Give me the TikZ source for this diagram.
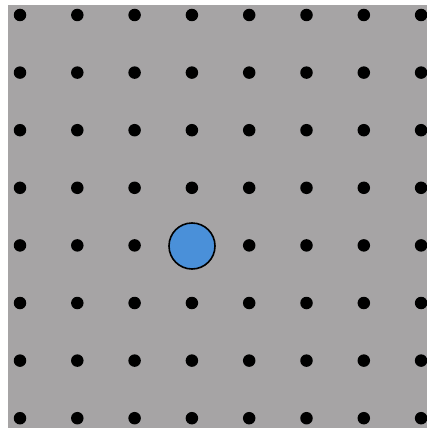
\documentclass[tikz,border=0pt]{standalone}
\definecolor{bggray}{RGB}{166,164,165}
\definecolor{dotblue}{RGB}{74,144,217}
\tikzset{
  gridpt/.style={circle,fill=black,inner sep=0pt,minimum size=12.5pt},
  agent/.style={circle,draw=black,line width=1.6pt,fill=dotblue,inner sep=0pt,minimum size=46pt}
}
\begin{document}
\begin{tikzpicture}[x=1pt,y=-1pt]
\useasboundingbox (0,0) rectangle (427,428);
\fill[white] (0,0) rectangle (427,428);
\fill[bggray] (8,5) rectangle (427,428);
\foreach \i in {0,...,7}{
  \foreach \j in {0,...,7}{
    \pgfmathsetmacro{\xx}{20+57.3*\i}
    \pgfmathsetmacro{\yy}{15+57.6*\j}
    \ifnum\i=3 \ifnum\j=4 \else
      \node[gridpt] (d\i\j) at (\xx,\yy) {};
    \fi \else
      \node[gridpt] (d\i\j) at (\xx,\yy) {};
    \fi
  }
}
\node[agent] (agent) at (192,246) {};
\end{tikzpicture}
\end{document}
